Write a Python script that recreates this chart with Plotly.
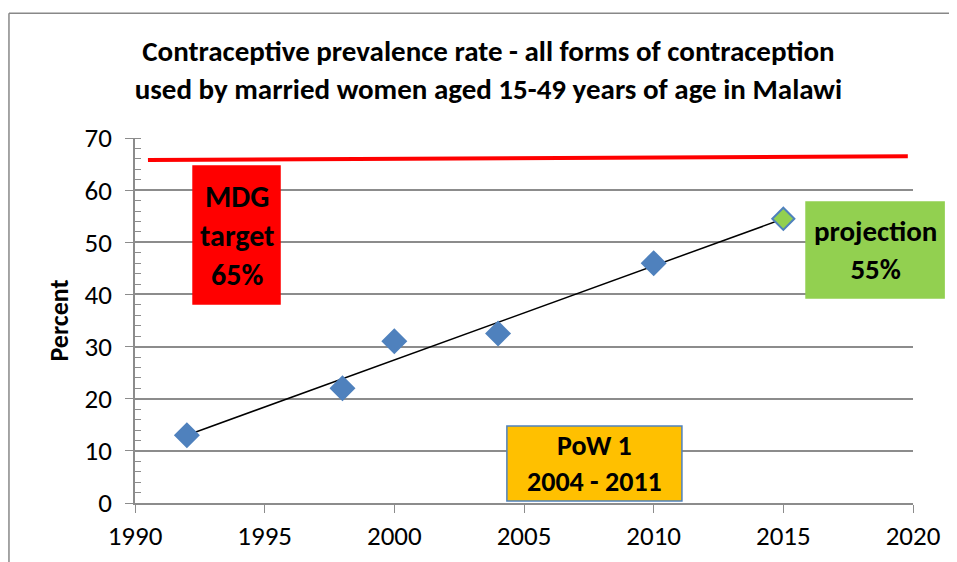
import plotly.graph_objects as go

FONT = "Calibri, Carlito, Lato"
BLUE = "#4F81BD"
GRID = "#8C8C8C"

# survey points (year, percent)
years = [1992, 1998, 2000, 2004, 2010]
cpr = [13, 22, 31, 32.5, 46]

# projection
proj_year = [2015]
proj_val = [54.5]

# linear trend endpoints
trend_x = [1992, 2015]
trend_y = [13, 54.5]

# MDG target line
target_x = [1990.5, 2019.8]
target_y = [65.8, 66.5]

fig = go.Figure()

fig.add_trace(go.Scatter(x=target_x, y=target_y, mode="lines",
                         line=dict(color="#FF0000", width=4), hoverinfo="skip"))
fig.add_trace(go.Scatter(x=trend_x, y=trend_y, mode="lines",
                         line=dict(color="black", width=1.5), hoverinfo="skip"))
fig.add_trace(go.Scatter(x=years, y=cpr, mode="markers",
                         marker=dict(symbol="diamond", size=20, color=BLUE,
                                     line=dict(width=0))))
fig.add_trace(go.Scatter(x=proj_year, y=proj_val, mode="markers",
                         marker=dict(symbol="diamond", size=17, color="#92D050",
                                     line=dict(color=BLUE, width=2))))

# ── text boxes ───────────────────────────────────────────────
boxes = [
    # x0, x1, y0, y1, fill, border, text, size
    (0.0746, 0.1864, 0.545, 0.923, "#FF0000", "#FF0000", "MDG<br>target<br>65%", 30),
    (0.8625, 1.040, 0.5616, 0.8247, "#92D050", "#92D050", "projection<br>55%", 29),
    (0.478, 0.703, 0.0055, 0.211, "#FFC000", BLUE, "PoW 1<br>2004 - 2011", 28),
]
for x0, x1, y0, y1, fill, border, txt, sz in boxes:
    fig.add_shape(type="rect", xref="paper", yref="paper",
                  x0=x0, x1=x1, y0=y0, y1=y1,
                  fillcolor=fill, line=dict(color=border, width=1.5), layer="above")
    fig.add_annotation(xref="paper", yref="paper", x=(x0 + x1) / 2, y=(y0 + y1) / 2,
                       text=f"<b>{txt}</b>", showarrow=False,
                       font=dict(family=FONT, size=sz, color="black"),
                       xanchor="center", yanchor="middle")

# outer chart frame (top + left edges)
fig.add_shape(type="line", xref="paper", yref="paper", x0=-0.162, x1=1.1,
              y0=1.342, y1=1.342, line=dict(color="#888888", width=1.5))
fig.add_shape(type="line", xref="paper", yref="paper", x0=-0.162, x1=-0.162,
              y0=-0.2, y1=1.342, line=dict(color="#888888", width=1.5))

fig.update_layout(
    width=957, height=562,
    paper_bgcolor="white", plot_bgcolor="white",
    showlegend=False,
    margin=dict(l=127, r=52, t=130, b=67),
    title=dict(
        text="<b>Contraceptive prevalence rate - all forms of contraception<br>"
             "used by married women aged 15-49 years of age in Malawi</b>",
        x=0.502, xanchor="center", y=0.905, yanchor="middle",
        font=dict(family=FONT, size=29, color="black"),
    ),
    xaxis=dict(range=[1990, 2020], dtick=5, showgrid=False, zeroline=False,
               showline=True, linecolor=GRID, linewidth=1.5,
               ticks="outside", ticklen=8, tickcolor=GRID,
               tickfont=dict(family=FONT, size=27, color="black")),
    yaxis=dict(range=[0, 70], dtick=10, showgrid=True, gridcolor=GRID, gridwidth=1.5,
               zeroline=False, showline=True, linecolor=GRID, linewidth=1.5,
               ticks="outside", ticklen=8, tickcolor=GRID, ticklabelstandoff=8,
               minor=dict(dtick=2, ticks="inside", ticklen=6, tickcolor=GRID, showgrid=False),
               tickfont=dict(family=FONT, size=27, color="black"),
               title=dict(text="<b>Percent</b>", standoff=8,
                          font=dict(family=FONT, size=26, color="black"))),
)

fig.write_html("out.html")
